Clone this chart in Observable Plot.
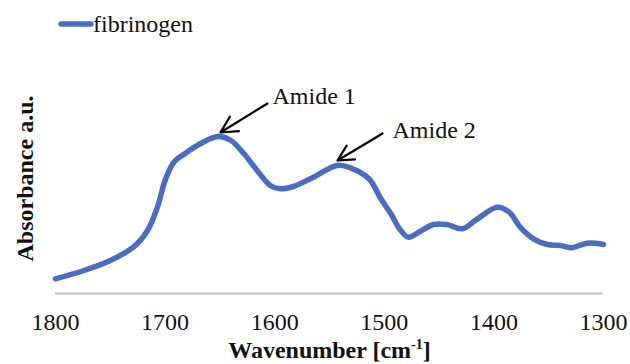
<!DOCTYPE html>
<html>
<head>
<meta charset="utf-8">
<script src="https://cdn.jsdelivr.net/npm/d3@7"></script>
<script src="https://cdn.jsdelivr.net/npm/@observablehq/plot@0.6"></script>
<style>
  body { margin: 0; background: #fff; font-family: "Liberation Serif", "DejaVu Serif", serif; }
  #wrap { width: 630px; height: 364px; position: relative; overflow: hidden; }
  #legend { height: 48px; position: relative; }
  #legend svg { position: absolute; left: 0; top: 0; }
</style>
</head>
<body>
<div id="wrap">
  <div id="legend"></div>
  <div id="chart"></div>
</div>
<script>
// ---- data ----
const seriesName = "fibrinogen";
const wavenumber = [1800, 1774, 1750, 1729, 1716, 1707, 1700, 1692, 1680, 1668, 1652, 1640, 1628, 1616, 1604, 1595, 1583, 1567, 1543, 1531, 1514, 1504, 1494, 1485, 1478, 1467, 1455, 1443, 1429, 1415, 1397, 1386, 1376, 1364, 1351, 1339, 1329, 1315, 1300];
const absorbance = [0.147, 0.23, 0.33, 0.463, 0.63, 0.863, 1.13, 1.313, 1.413, 1.497, 1.57, 1.53, 1.397, 1.23, 1.08, 1.047, 1.07, 1.15, 1.28, 1.257, 1.147, 0.963, 0.797, 0.63, 0.563, 0.623, 0.69, 0.69, 0.647, 0.747, 0.863, 0.813, 0.663, 0.547, 0.49, 0.48, 0.457, 0.503, 0.49];
const xTicks = [1800, 1700, 1600, 1500, 1400, 1300];
const annotationLabels = ["Amide 1", "Amide 2"];
const annotationTextX = [1602, 1492.5];
const annotationTextY = [1.974, 1.634];
const arrowFromX = [1606.6, 1501.6];
const arrowFromY = [1.90, 1.60];
const arrowToX = [1649.5, 1542.7];
const arrowToY = [1.61, 1.33];
const xLabel = "Wavenumber [cm-1]";
const yLabel = "Absorbance a.u.";

const color = "#4a6dc0";
const font = '"Liberation Serif", "DejaVu Serif", serif';

const spectrum = wavenumber.map((w, i) => ({w, a: absorbance[i]}));
const notes = annotationLabels.map((label, i) => ({
  label, tx: annotationTextX[i], ty: annotationTextY[i],
  x1: arrowFromX[i], y1: arrowFromY[i], x2: arrowToX[i], y2: arrowToY[i]
}));

// ---- legend ----
const lg = d3.select("#legend").append("svg").attr("width", 630).attr("height", 48);
lg.append("line").attr("x1", 61).attr("x2", 91).attr("y1", 24).attr("y2", 24)
  .attr("stroke", color).attr("stroke-width", 5.5).attr("stroke-linecap", "round");
lg.append("text").attr("x", 93).attr("y", 32).style("font-family", font).attr("font-size", 24)
  .attr("fill", "#111").text(seriesName);

// ---- chart ----
const chart = Plot.plot({
  width: 630,
  height: 316,
  marginLeft: 55,
  marginRight: 27,
  marginTop: 45,
  marginBottom: 71,
  style: {fontFamily: font, fontSize: "24px", color: "#111", background: "white", overflow: "visible"},
  x: {domain: [1800, 1300], ticks: xTicks, label: null},
  y: {domain: [0, 2], axis: null, label: null},
  marks: [
    Plot.ruleY([0], {stroke: "#c0c0c0", strokeWidth: 2}),
    Plot.axisX({ticks: xTicks, tickSize: 0, tickPadding: 19, fontSize: 24, tickFormat: d => String(d), label: null}),
    Plot.line(spectrum, {x: "w", y: "a", stroke: color, strokeWidth: 5.5, curve: "catmull-rom", strokeLinecap: "round", strokeLinejoin: "round"}),
    Plot.arrow(notes, {x1: "x1", y1: "y1", x2: "x2", y2: "y2", stroke: "#000", strokeWidth: 2.2, headLength: 13, headAngle: 55}),
    Plot.text(notes, {x: "tx", y: "ty", text: "label", textAnchor: "start", lineAnchor: "middle", fontSize: 24, fill: "#111"}),
    Plot.text([xLabel], {frameAnchor: "bottom", dy: 57, text: d => d, fontSize: 24, fontWeight: "bold", lineAnchor: "middle", textAnchor: "middle", fill: "#111"}),
    Plot.text([yLabel], {frameAnchor: "left", dx: -30, dy: -15, rotate: -90, text: d => d, fontSize: 24, fontWeight: "bold", lineAnchor: "middle", textAnchor: "middle", fill: "#111"})
  ]
});
document.getElementById("chart").appendChild(chart);

// superscript for the x label
d3.select(chart).selectAll("text").filter(function() { return this.textContent === xLabel; })
  .each(function() {
    const t = d3.select(this);
    t.text(null);
    t.append("tspan").text("Wavenumber [cm");
    t.append("tspan").attr("font-size", 14).attr("dy", -9).text("-1");
    t.append("tspan").attr("dy", 9).text("]");
  });
</script>
</body>
</html>
